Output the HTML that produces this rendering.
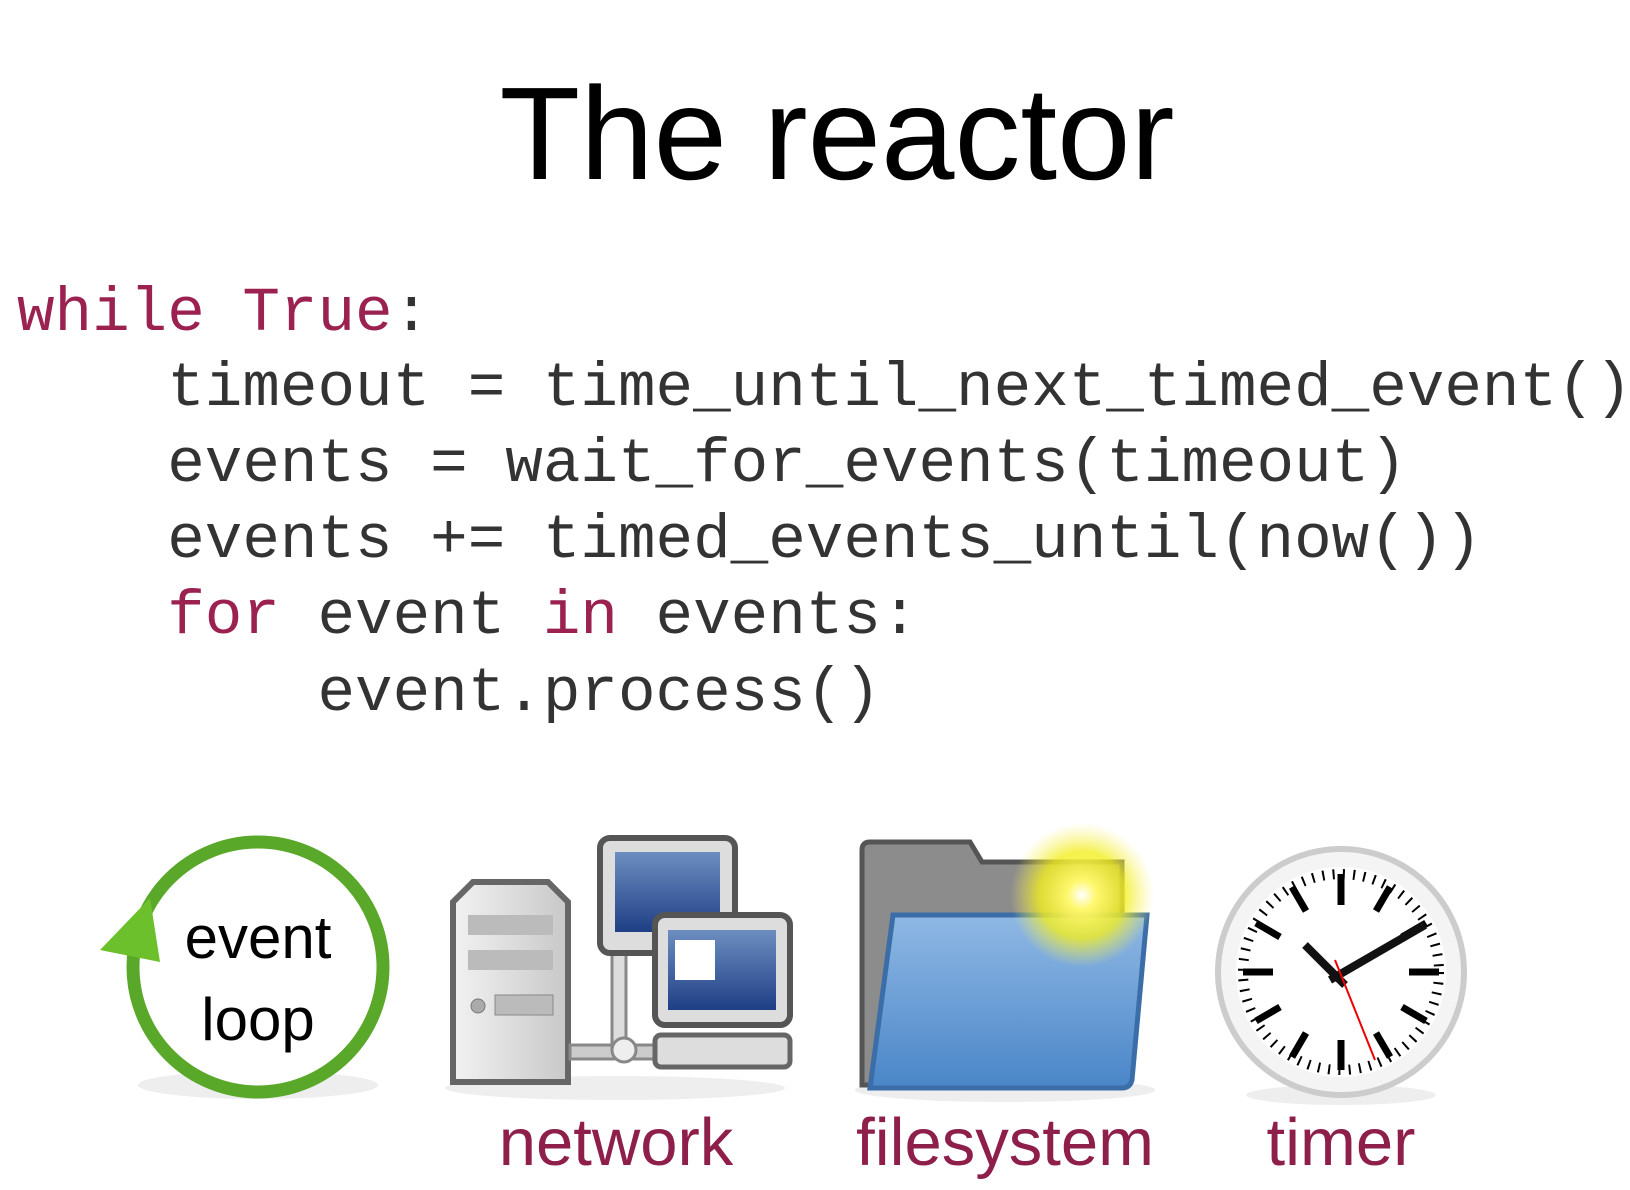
<!DOCTYPE html>
<html><head><meta charset="utf-8"><style>
html,body{margin:0;padding:0;background:#fff;}
svg{display:block;}
</style></head><body>
<svg width="1630" height="1190" viewBox="0 0 1630 1190" xmlns="http://www.w3.org/2000/svg">
<defs>
<radialGradient id="glow"><stop offset="0" stop-color="#ffffff"/><stop offset="0.2" stop-color="#fff870"/><stop offset="0.6" stop-color="#f2ee20" stop-opacity="0.8"/><stop offset="1" stop-color="#f8f060" stop-opacity="0"/></radialGradient>
<linearGradient id="fold" x1="0" y1="0" x2="0" y2="1"><stop offset="0" stop-color="#8fb8e4"/><stop offset="1" stop-color="#4a86c8"/></linearGradient>
<linearGradient id="scr" x1="0" y1="0" x2="0" y2="1"><stop offset="0" stop-color="#6d8ec0"/><stop offset="1" stop-color="#1f3f86"/></linearGradient>
<linearGradient id="grey" x1="0" y1="0" x2="1" y2="0"><stop offset="0" stop-color="#f2f2f2"/><stop offset="1" stop-color="#c8c8c8"/></linearGradient>
</defs>
<text x="837" y="179" font-family="Liberation Sans, sans-serif" font-size="132" text-anchor="middle" fill="#000">The reactor</text>
<g font-family="Liberation Mono, monospace" font-size="62.6" fill="#333">
<text x="17" y="330" xml:space="preserve"><tspan fill="#9b2250">while True</tspan>:</text>
<text x="17" y="405" xml:space="preserve">    timeout = time_until_next_timed_event()</text>
<text x="17" y="481" xml:space="preserve">    events = wait_for_events(timeout)</text>
<text x="17" y="557" xml:space="preserve">    events += timed_events_until(now())</text>
<text x="17" y="633" xml:space="preserve">    <tspan fill="#9b2250">for</tspan> event <tspan fill="#9b2250">in</tspan> events:</text>
<text x="17" y="710" xml:space="preserve">        event.process()</text>
</g>
<!-- event loop -->
<ellipse cx="258" cy="1085" rx="120" ry="14" fill="#eee"/>
<circle cx="258" cy="967" r="125" fill="#fff" stroke="#5aa82a" stroke-width="13"/>
<polygon points="100,950 150,898 160,962" fill="#6cc02c"/>
<text x="258" y="958" font-family="Liberation Sans, sans-serif" font-size="60" text-anchor="middle">event</text>
<text x="258" y="1040" font-family="Liberation Sans, sans-serif" font-size="60" text-anchor="middle">loop</text>
<!-- network -->
<ellipse cx="615" cy="1088" rx="170" ry="12" fill="#eee"/>
<path d="M453 1082 V902 l20 -20 h75 l20 20 V1082 Z" fill="url(#grey)" stroke="#666" stroke-width="6"/>
<rect x="468" y="915" width="85" height="20" fill="#bbb"/><rect x="468" y="950" width="85" height="20" fill="#bbb"/>
<rect x="495" y="995" width="58" height="20" fill="#bbb" stroke="#888"/><circle cx="478" cy="1006" r="7" fill="#aaa" stroke="#777"/>
<rect x="570" y="1045" width="90" height="14" fill="#ccc" stroke="#888" stroke-width="3"/>
<rect x="612" y="940" width="14" height="110" fill="#ddd" stroke="#888" stroke-width="3"/>
<circle cx="624" cy="1050" r="12" fill="#eee" stroke="#888" stroke-width="3"/>
<rect x="600" y="838" width="135" height="115" rx="10" fill="#ddd" stroke="#555" stroke-width="6"/>
<rect x="615" y="852" width="105" height="80" fill="url(#scr)"/>
<rect x="655" y="915" width="135" height="110" rx="10" fill="#ddd" stroke="#555" stroke-width="6"/>
<rect x="668" y="930" width="108" height="80" fill="url(#scr)"/>
<rect x="675" y="940" width="40" height="40" fill="#fff"/>
<rect x="655" y="1035" width="135" height="32" rx="6" fill="#ddd" stroke="#666" stroke-width="5"/>
<!-- folder -->
<ellipse cx="1005" cy="1090" rx="150" ry="12" fill="#eee"/>
<path d="M862 1085 V850 q0 -8 8 -8 h100 l12 20 h140 V1085 Z" fill="#8c8c8c" stroke="#555" stroke-width="5"/>
<path d="M893 915 H1147 L1132 1080 Q1130 1088 1122 1088 H870 Z" fill="url(#fold)" stroke="#3b6ea8" stroke-width="5"/>
<circle cx="1082" cy="895" r="72" fill="url(#glow)"/>
<!-- clock -->
<ellipse cx="1341" cy="1095" rx="95" ry="10" fill="#eee"/>
<circle cx="1341" cy="972" r="123" fill="#f4f4f4" stroke="#ccc" stroke-width="6"/>
<circle cx="1341" cy="972" r="105" fill="#fff"/>
<g stroke="#000" stroke-width="7">
<line x1="1341" y1="874" x2="1341" y2="905"/><line x1="1341" y1="1040" x2="1341" y2="1070"/>
<line x1="1243" y1="972" x2="1273" y2="972"/><line x1="1409" y1="972" x2="1439" y2="972"/>
<line x1="1390" y1="887" x2="1376" y2="911"/><line x1="1426" y1="923" x2="1402" y2="937"/>
<line x1="1426" y1="1021" x2="1402" y2="1007"/><line x1="1390" y1="1057" x2="1376" y2="1033"/>
<line x1="1292" y1="1057" x2="1306" y2="1033"/><line x1="1256" y1="1021" x2="1280" y2="1007"/>
<line x1="1256" y1="923" x2="1280" y2="937"/><line x1="1292" y1="887" x2="1306" y2="911"/>
</g>
<circle cx="1341" cy="972" r="98" fill="none" stroke="#000" stroke-width="10" stroke-dasharray="2 8.3"/>
<line x1="1305" y1="945" x2="1345" y2="985" stroke="#111" stroke-width="8"/>
<line x1="1330" y1="980" x2="1425" y2="925" stroke="#111" stroke-width="8"/>
<line x1="1335" y1="960" x2="1375" y2="1060" stroke="#e00" stroke-width="2"/>
<g font-family="Liberation Sans, sans-serif" font-size="67" fill="#8e1f4b" text-anchor="middle">
<text x="616" y="1165">network</text>
<text x="1005" y="1165">filesystem</text>
<text x="1341" y="1165">timer</text>
</g>
</svg>
</body></html>
